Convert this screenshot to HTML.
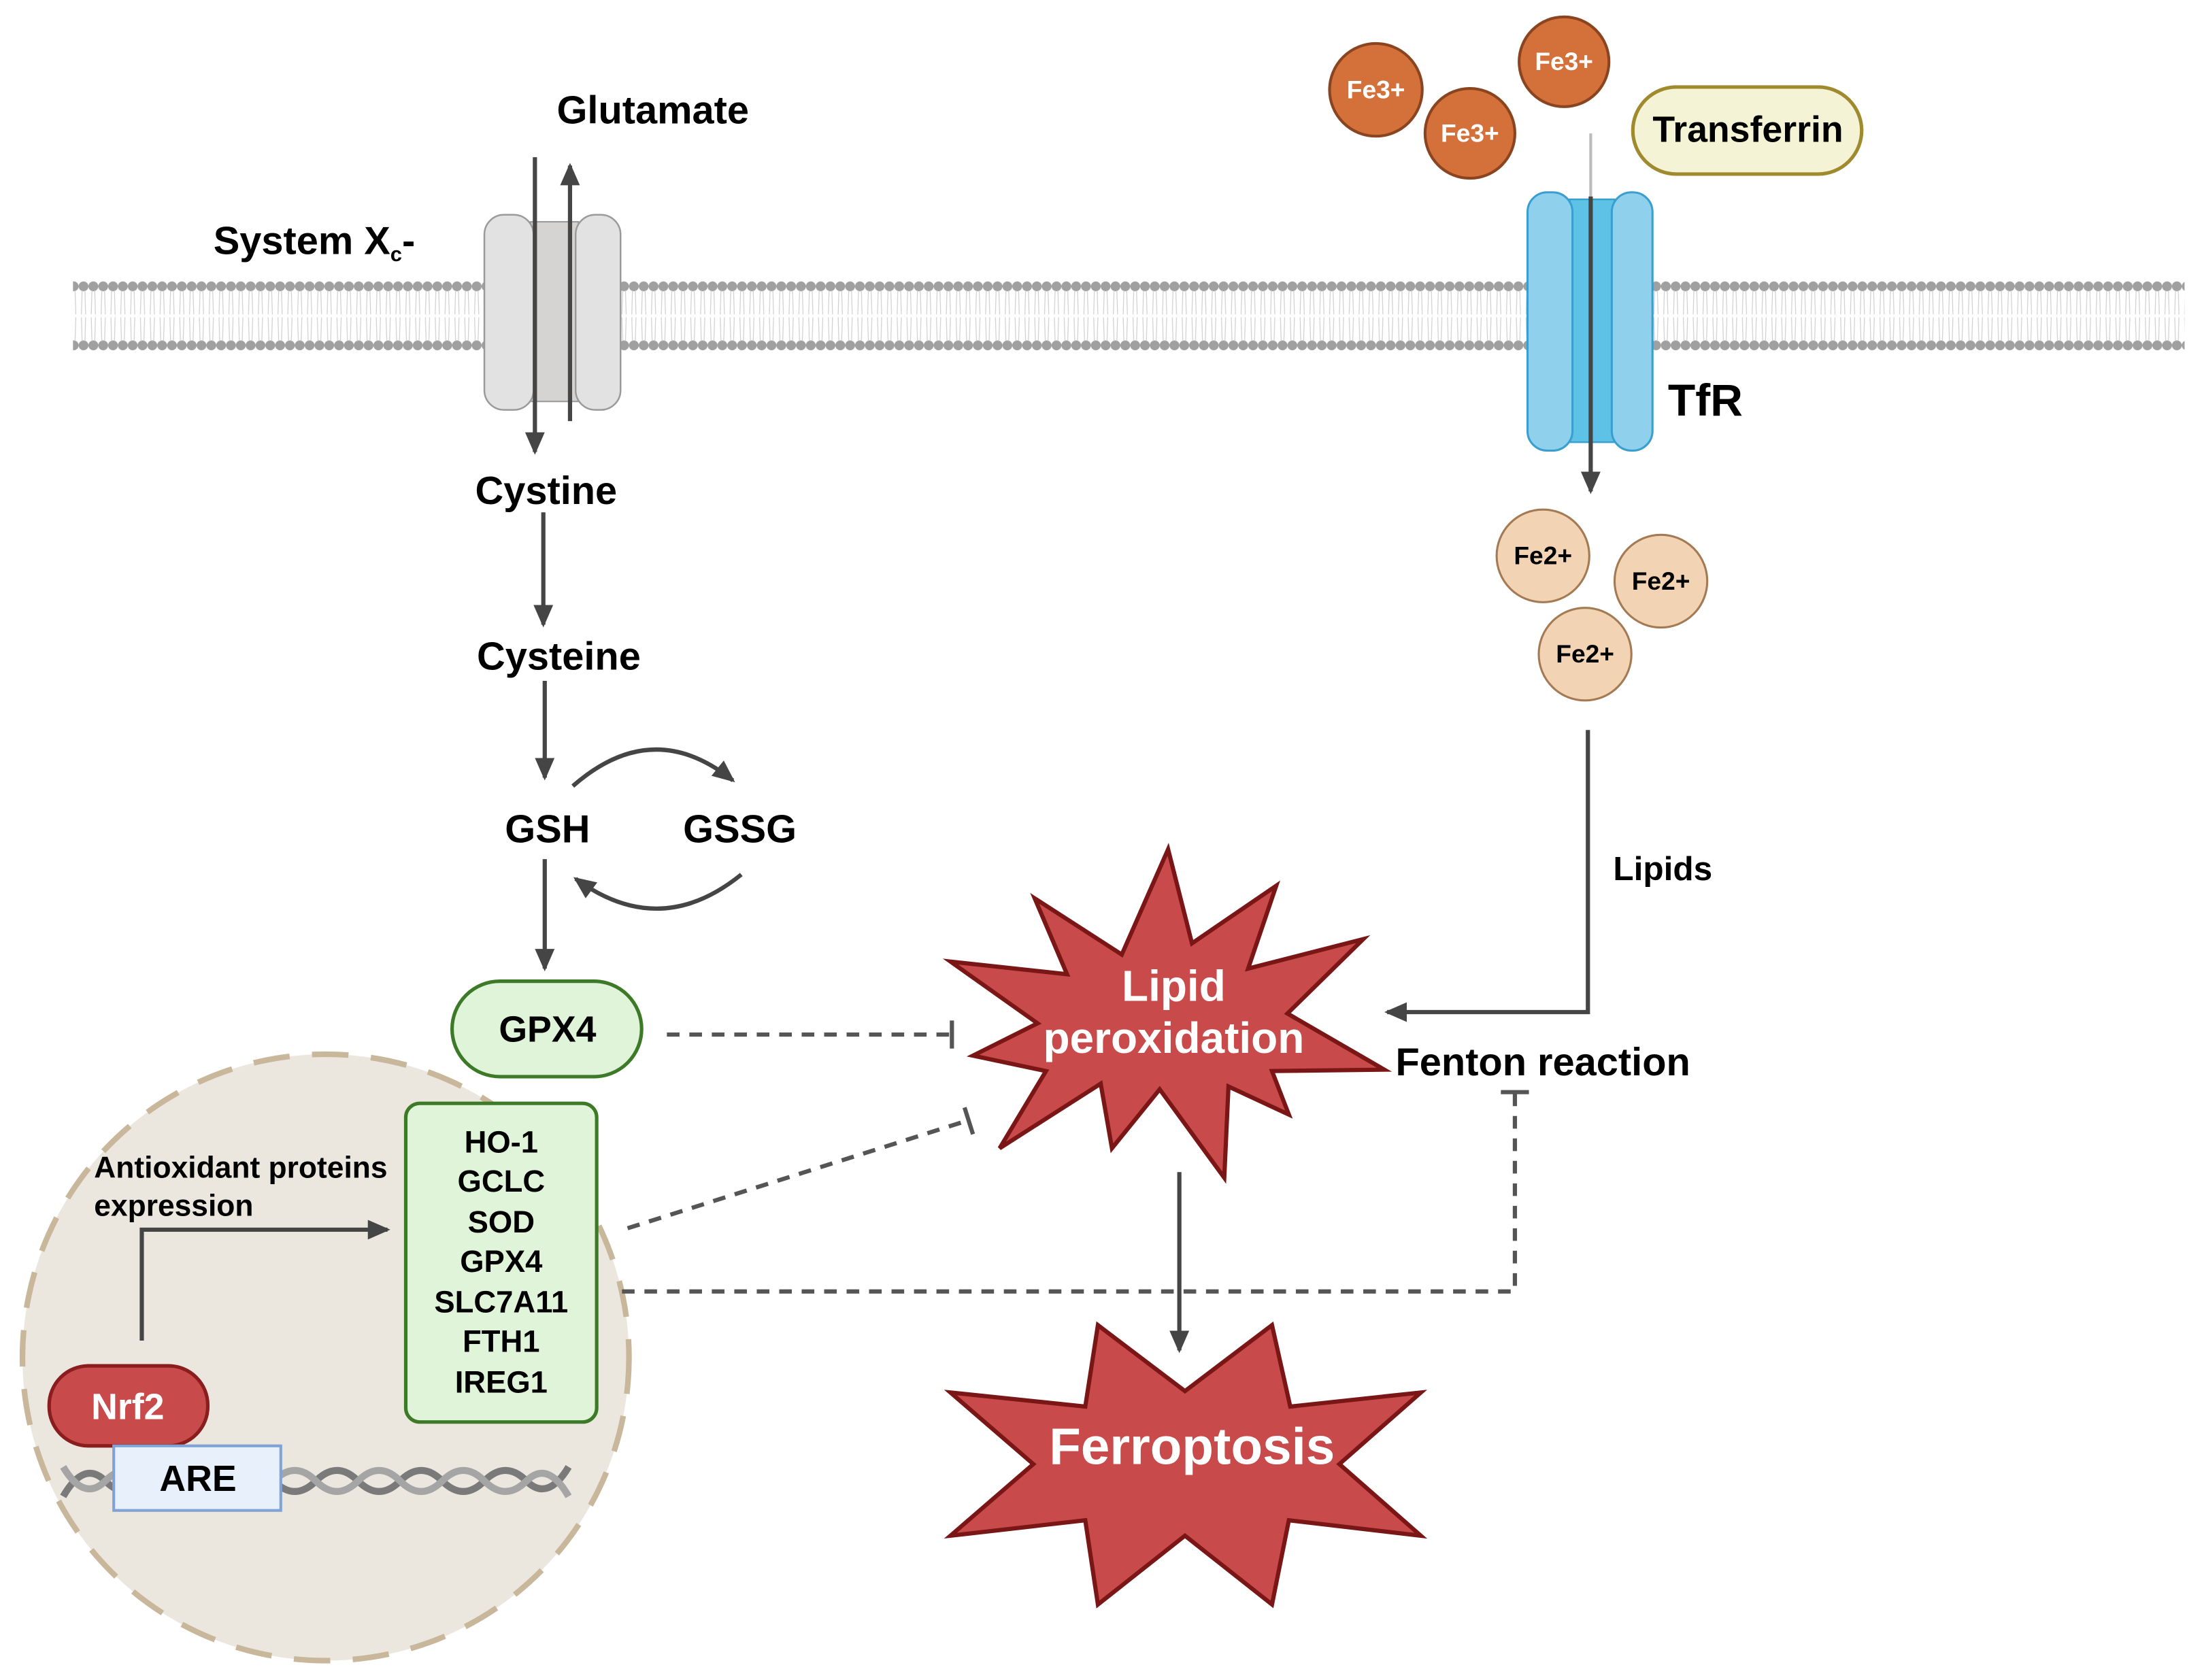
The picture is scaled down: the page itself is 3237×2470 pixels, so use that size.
<!DOCTYPE html>
<html><head><meta charset="utf-8"><style>
html,body{margin:0;padding:0;background:#fff}
svg{display:block}
text{font-family:"Liberation Sans",sans-serif;font-weight:bold}
</style></head><body>
<svg width="3237" height="2470" viewBox="0 0 1568.4 1196.8" preserveAspectRatio="none" xmlns="http://www.w3.org/2000/svg">
<defs>
<pattern id="mem" x="0" y="0" width="7" height="50" patternUnits="userSpaceOnUse">
<circle cx="3.5" cy="4" r="3.5" fill="#a0a0a0"/>
<circle cx="3.5" cy="46" r="3.5" fill="#a0a0a0"/>
<path d="M2.5 7 L2 24 M4.5 7 L5 24 M2 26 L2.5 43 M5 26 L4.5 43" stroke="#d0d0d0" stroke-width="0.6" fill="none"/>
</pattern>
<marker id="ahb" markerWidth="16" markerHeight="16" refX="14" refY="8" orient="auto" markerUnits="userSpaceOnUse">
<path d="M0 1 L16 8 L0 15 Z" fill="#454545"/>
</marker>
</defs>

<rect x="52" y="200" width="1504" height="50" fill="url(#mem)"/>

<rect x="378" y="158" width="34" height="128" fill="#d6d3d3" stroke="#9a9a9a" stroke-width="1"/>
<rect x="345" y="153" width="35" height="139" rx="14" fill="#e2e2e2" stroke="#9a9a9a" stroke-width="1.2"/>
<rect x="410" y="153" width="32" height="139" rx="14" fill="#e2e2e2" stroke="#9a9a9a" stroke-width="1.2"/>
<line x1="381" y1="112" x2="381" y2="322" stroke="#454545" stroke-width="3" marker-end="url(#ahb)"/>
<line x1="406" y1="300" x2="406" y2="118" stroke="#454545" stroke-width="3" marker-end="url(#ahb)"/>

<text x="152" y="181" font-size="28">System X<tspan font-size="15" dy="5">c</tspan><tspan dy="-5">-</tspan></text>
<text x="465" y="88" font-size="28" text-anchor="middle">Glutamate</text>

<text x="389" y="359" font-size="28" text-anchor="middle">Cystine</text>
<line x1="387" y1="365" x2="387" y2="445" stroke="#454545" stroke-width="3" marker-end="url(#ahb)"/>
<text x="398" y="477" font-size="28" text-anchor="middle">Cysteine</text>
<line x1="388" y1="485" x2="388" y2="554" stroke="#454545" stroke-width="3" marker-end="url(#ahb)"/>
<text x="390" y="600" font-size="28" text-anchor="middle">GSH</text>
<text x="527" y="600" font-size="28" text-anchor="middle">GSSG</text>
<path d="M408 560 Q465 510 522 556" stroke="#454545" stroke-width="3" fill="none" marker-end="url(#ahb)"/>
<path d="M528 623 Q470 670 410 626" stroke="#454545" stroke-width="3" fill="none" marker-end="url(#ahb)"/>
<line x1="388" y1="612" x2="388" y2="690" stroke="#454545" stroke-width="3" marker-end="url(#ahb)"/>

<circle cx="232" cy="967" r="216" fill="#ebe7df" stroke="#c9b79b" stroke-width="4" stroke-dasharray="26 16"/>

<rect x="322" y="699" width="135" height="68" rx="34" fill="#e0f4d9" stroke="#3d7a28" stroke-width="2.5"/>
<text x="390" y="742" font-size="26" text-anchor="middle">GPX4</text>

<rect x="289" y="786" width="136" height="227" rx="10" fill="#e0f4d9" stroke="#3d7a28" stroke-width="2.5"/>
<g font-size="22" text-anchor="middle">
<text x="357" y="821">HO-1</text>
<text x="357" y="849">GCLC</text>
<text x="357" y="878">SOD</text>
<text x="357" y="906">GPX4</text>
<text x="357" y="935">SLC7A11</text>
<text x="357" y="963">FTH1</text>
<text x="357" y="992">IREG1</text>
</g>

<text x="67" y="839" font-size="21.5">Antioxidant proteins</text>
<text x="67" y="866" font-size="21.5">expression</text>
<polyline points="101,955 101,876 276,876" stroke="#454545" stroke-width="3" fill="none" marker-end="url(#ahb)"/>

<path d="M45 1066 Q60 1040 75 1055 T105 1055 T135 1055 T165 1055 T195 1055 T225 1055 T255 1055 T285 1055 T315 1055 T345 1055 T375 1055 T405 1045" stroke="#7a7a7a" stroke-width="5" fill="none"/>
<path d="M45 1045 Q60 1070 75 1055 T105 1055 T135 1055 T165 1055 T195 1055 T225 1055 T255 1055 T285 1055 T315 1055 T345 1055 T375 1055 T405 1066" stroke="#a5a5a5" stroke-width="5" fill="none"/>

<rect x="35" y="973" width="113" height="57" rx="28" fill="#c94a4a" stroke="#8a1d1d" stroke-width="2.5"/>
<text x="91" y="1011" font-size="26" fill="#fff" text-anchor="middle">Nrf2</text>
<rect x="81" y="1030" width="119" height="46" fill="#e8f0fb" stroke="#7fa3d6" stroke-width="2"/>
<text x="141" y="1062" font-size="26" text-anchor="middle">ARE</text>

<g stroke="#555" stroke-width="3" fill="none">
<line x1="475" y1="737" x2="678" y2="737" stroke-dasharray="9 7"/>
<line x1="678" y1="727" x2="678" y2="747"/>
<line x1="447" y1="875" x2="690" y2="798" stroke-dasharray="9 7"/>
<line x1="687" y1="789" x2="693" y2="808"/>
<polyline points="443,920 1079,920 1079,778" stroke-dasharray="9 7"/>
<line x1="1069" y1="778" x2="1089" y2="778"/>
</g>

<polygon points="832,605 849,672 909,631 889,690 971,669 917,722 986,762 906,763 918,794 875,774 872,839 826,776 792,818 784,772 712,818 745,763 693,752 739,729 677,685 760,694 737,640 799,680" fill="#c94a4a" stroke="#7a1616" stroke-width="3"/>
<text x="836" y="713" font-size="31" fill="#fff" text-anchor="middle">Lipid</text>
<text x="836" y="750" font-size="31" fill="#fff" text-anchor="middle">peroxidation</text>

<line x1="840" y1="835" x2="840" y2="962" stroke="#454545" stroke-width="3" marker-end="url(#ahb)"/>

<polygon points="782,944 844,991 906,944 919,1002 1012,992 954,1043 1012,1094 918,1083 906,1143 844,1094 782,1143 773,1083 677,1094 736,1043 677,992 773,1002" fill="#c94a4a" stroke="#7a1616" stroke-width="3"/>
<text x="849" y="1043" font-size="37" fill="#fff" text-anchor="middle">Ferroptosis</text>

<line x1="1133" y1="95" x2="1133" y2="140" stroke="#bbb" stroke-width="2"/>
<rect x="1118" y="142" width="32" height="173" fill="#5ec1e6" stroke="#3a9fcf" stroke-width="1.2"/>
<rect x="1088" y="137" width="32" height="184" rx="14" fill="#8fd0ec" stroke="#3a9fcf" stroke-width="1.5"/>
<rect x="1148" y="137" width="29" height="184" rx="14" fill="#8fd0ec" stroke="#3a9fcf" stroke-width="1.5"/>
<line x1="1133" y1="140" x2="1133" y2="350" stroke="#454545" stroke-width="3" marker-end="url(#ahb)"/>
<text x="1188" y="296" font-size="32">TfR</text>

<g fill="#d4703a" stroke="#8a4520" stroke-width="2">
<circle cx="980" cy="64" r="33"/>
<circle cx="1047" cy="95" r="32"/>
<circle cx="1114" cy="44" r="32"/>
</g>
<g font-size="18" fill="#fff" text-anchor="middle">
<text x="980" y="70">Fe3+</text>
<text x="1047" y="101">Fe3+</text>
<text x="1114" y="50">Fe3+</text>
</g>
<rect x="1163" y="62" width="163" height="62" rx="31" fill="#f5f3d5" stroke="#a08a2e" stroke-width="2.5"/>
<text x="1245" y="101" font-size="26" text-anchor="middle">Transferrin</text>

<g fill="#f2d4b4" stroke="#a47a55" stroke-width="1.5">
<circle cx="1099" cy="396" r="33"/>
<circle cx="1183" cy="414" r="33"/>
<circle cx="1129" cy="466" r="33"/>
</g>
<g font-size="18" text-anchor="middle">
<text x="1099" y="402">Fe2+</text>
<text x="1183" y="420">Fe2+</text>
<text x="1129" y="472">Fe2+</text>
</g>

<polyline points="1131,520 1131,721 988,721" stroke="#454545" stroke-width="3" fill="none" marker-end="url(#ahb)"/>
<text x="1149" y="627" font-size="24">Lipids</text>
<text x="994" y="766" font-size="28">Fenton reaction</text>
</svg>
</body></html>
